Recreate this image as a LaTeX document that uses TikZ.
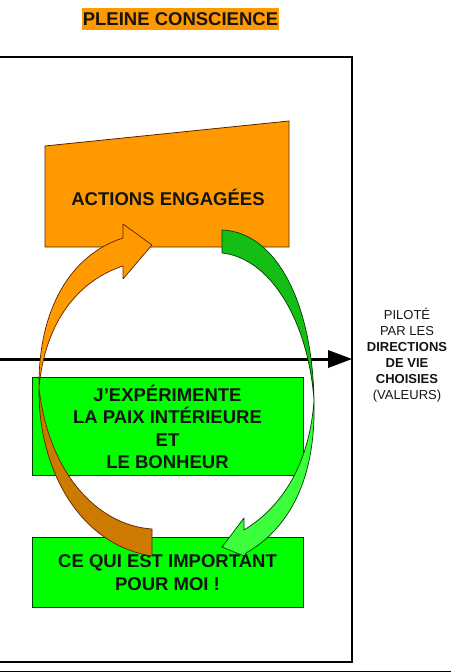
\documentclass[tikz,border=0pt]{standalone}
\usepackage{fontspec}
\setmainfont{Liberation Sans}
\definecolor{orng}{RGB}{255,153,0}
\definecolor{orngdark}{RGB}{204,122,0}
\definecolor{orngline}{RGB}{90,35,0}
\definecolor{limeg}{RGB}{0,255,0}
\definecolor{gdark}{RGB}{20,190,20}
\definecolor{glight}{RGB}{60,255,60}
\definecolor{gline}{RGB}{0,60,0}
\definecolor{txt}{RGB}{20,20,20}
\begin{document}
\begin{tikzpicture}[x=1pt,y=-1pt,
  bigtxt/.style={font=\bfseries\fontsize{18.5}{22.3}\selectfont, text=txt, align=center, inner sep=0pt},
  sidetxt/.style={font=\fontsize{13}{16}\selectfont, text=txt, align=center, inner sep=0pt},
  greenbox/.style={fill=limeg, draw=gline, line width=0.8pt, minimum width=271pt, inner sep=0pt},
  oarrow/.style={draw=orngline, line width=0.7pt, line join=round},
  garrow/.style={draw=gline, line width=0.7pt, line join=round}]
\useasboundingbox (0,0) rectangle (451,672);
% frame
\draw[line width=1.2pt] (-5,57) rectangle (352,662);
\draw[line width=1pt] (0,671) -- (451,671);
% title
\node[bigtxt, fill=orng, minimum width=197pt, minimum height=22pt] (title) at (180.5,19) {PLEINE CONSCIENCE};
% trapezoid
\draw[fill=orng, draw=orngline, line width=0.8pt] (45,146) -- (289,121) -- (289,247) -- (45,247) -- cycle;
\node[bigtxt] (actions) at (168,197) {ACTIONS ENGAGÉES};
% green boxes
\node[greenbox, minimum height=98pt] (box1) at (167.5,426) {};
\node[bigtxt] (t1) at (167.5,427) {J’EXPÉRIMENTE\\LA PAIX INTÉRIEURE\\ET\\LE BONHEUR};
\node[greenbox, minimum height=70pt] (box2) at (167.5,572) {};
\node[bigtxt] (t2) at (167.5,572.5) {CE QUI EST IMPORTANT\\POUR MOI !};
% side text
\node[sidetxt] (side) at (407,355) {PILOTÉ\\PAR LES\\\textbf{DIRECTIONS}\\\textbf{DE VIE}\\\textbf{CHOISIES}\\(VALEURS)};
% horizontal arrow
\coordinate (hstart) at (0,359);
\coordinate (hbase) at (328,359);
\coordinate (htip) at (352,359);
\draw[line width=3pt] (hstart) -- (hbase);
\fill ([yshift=-9pt]hbase) -- (htip) -- ([yshift=9pt]hbase) -- cycle;
% orange curved arrow: lower dark piece
\draw[oarrow, fill=orngdark] (39,388) .. controls (38,470) and (80,545) .. (152,556)
  -- (152,529) .. controls (95,525) and (48,470) .. (39,388) -- cycle;
% orange upper piece with head
\draw[oarrow, fill=orng] (39,388) .. controls (38,310) and (70,255) .. (123,238)
  -- (123,224) -- (152,245) -- (123,279) -- (123,266)
  .. controls (80,280) and (45,320) .. (39,388) -- cycle;
% green curved arrow: upper darker piece
\draw[garrow, fill=gdark] (222,230) .. controls (275,232) and (312,300) .. (314,400)
  .. controls (308,320) and (270,258) .. (222,253) -- cycle;
% green lower piece with head
\draw[garrow, fill=glight] (314,400) .. controls (316,470) and (295,525) .. (246,553)
  -- (244,556) -- (222,547) -- (244,518) -- (244,530)
  .. controls (285,505) and (310,460) .. (314,400) -- cycle;
\end{tikzpicture}
\end{document}
